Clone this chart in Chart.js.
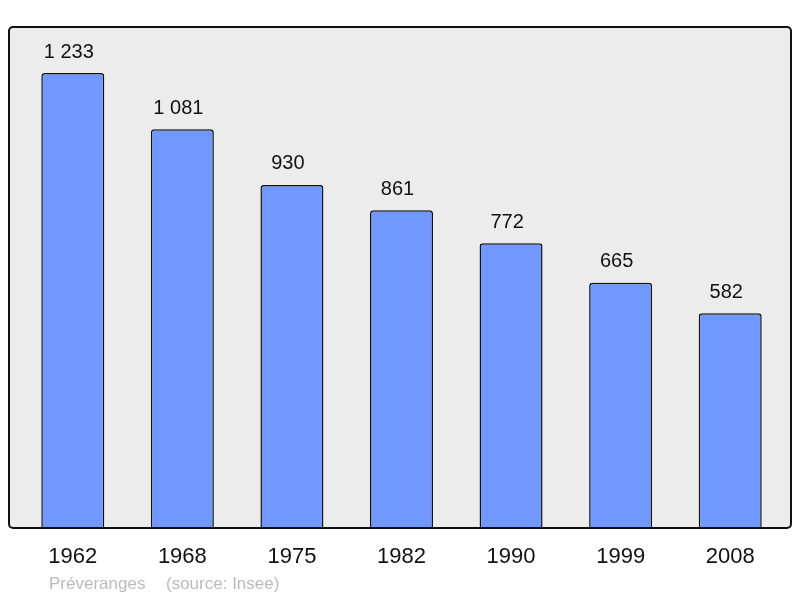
<!DOCTYPE html>
<html>
<head>
<meta charset="utf-8">
<script src="https://cdn.jsdelivr.net/npm/chart.js@4"></script>
<style>
  body { margin: 0; background: #fff; }
  #wrap { width: 800px; height: 598px; }
</style>
</head>
<body>
<div id="wrap"><canvas id="pop"></canvas></div>
<script>
const years = ['1962', '1968', '1975', '1982', '1990', '1999', '2008'];
const population = [1233, 1081, 930, 861, 772, 665, 582];
const valueLabels = ['1 233', '1 081', '930', '861', '772', '665', '582'];
const commune = 'Préveranges';
const source = '(source: Insee)';

const FONT = '"Liberation Sans", Arial, sans-serif';

// frame, value labels, years and source line
const decor = {
    id: 'decor',
    beforeDraw(chart) {
        const a = chart.chartArea;
        const ctx = chart.ctx;
        ctx.save();
        ctx.beginPath();
        ctx.roundRect(9, a.top, 782, a.bottom - a.top, 4);
        ctx.fillStyle = '#ececec';
        ctx.fill();
        ctx.restore();
    },
    afterDraw(chart) {
        const a = chart.chartArea;
        const ctx = chart.ctx;
        const meta = chart.getDatasetMeta(0);
        ctx.save();
        ctx.beginPath();
        ctx.roundRect(9, a.top, 782, a.bottom - a.top, 4);
        ctx.lineWidth = 2;
        ctx.strokeStyle = '#111';
        ctx.stroke();

        ctx.textAlign = 'center';
        ctx.textBaseline = 'middle';
        ctx.fillStyle = '#111';
        ctx.font = '20px ' + FONT;
        meta.data.forEach((bar, i) => {
            ctx.fillText(valueLabels[i], bar.x - 4, bar.y - 21);
        });
        ctx.font = '22px ' + FONT;
        const xs = chart.scales.x;
        years.forEach((y, i) => {
            ctx.fillText(y, xs.getPixelForValue(i), 557);
        });
        ctx.textAlign = 'left';
        ctx.fillStyle = '#bbbbbb';
        ctx.font = '17px ' + FONT;
        ctx.fillText(commune, 49, 584);
        ctx.fillText(source, 166, 584);
        ctx.restore();
    }
};

new Chart(document.getElementById('pop'), {
    type: 'bar',
    data: {
        labels: years,
        datasets: [{
            data: population,
            backgroundColor: '#7098ff',
            borderColor: '#111',
            borderWidth: 1.5,
            borderRadius: 3,
            borderSkipped: 'bottom',
            categoryPercentage: 1,
            barPercentage: 0.575
        }]
    },
    options: {
        responsive: true,
        maintainAspectRatio: false,
        animation: false,
        layout: { padding: { top: 27, bottom: 70, left: 18, right: 15 } },
        plugins: { legend: { display: false }, tooltip: { enabled: false } },
        scales: {
            x: { display: false },
            y: { display: false, min: 0, max: 1358 }
        }
    },
    plugins: [decor]
});
</script>
</body>
</html>
